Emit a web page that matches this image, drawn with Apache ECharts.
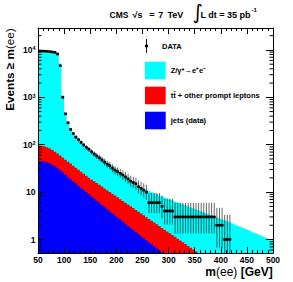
<!DOCTYPE html>
<html><head><meta charset="utf-8">
<script src="https://cdn.jsdelivr.net/npm/echarts@6/dist/echarts.min.js"></script>
<style>html,body{margin:0;padding:0;background:#fff}#c{width:293px;height:282px}</style>
</head><body><div id="c"></div>
<script>
// ---- data (bin low edges, 5 GeV bins) ----
const binLow = [50,55,60,65,70,75,80,85,90,95,100,105,110,115,120,125,130,135,140,145,150,155,160,165,170,175,180,185,190,195,200,205,210,215,220,225,230,235,240,245,250,255,260,265,270,275,280,285,290,295,300,305,310,315,320,325,330,335,340,345,350,355,360,365,370,375,380,385,390,395,400,405,410,415,420,425,430,435,440,445,450,455,460,465,470,475,480,485,490,495];
const BIN_W = 5;
// stacked sums
const stackTotal = [9900,9850,9800,9700,9550,9350,9050,8500,5200,1100,
  480,305,222,178,150,130,115,102,91,82,
  74,67,61,55.5,50.5,46,42,38.5,35,32,
  28.5,26,23.8,21.5,19.3,17,15,14,13.2,12.5,
  11.8,11.2,10.6,10.0,9.5,9.0,8.5,8.1,7.72,7.35,
  7.0,6.67,6.36,6.06,5.77,5.50,5.24,4.99,4.76,4.53,
  4.32,4.11,3.92,3.73,3.56,3.39,3.23,3.08,2.93,2.79,
  2.66,2.54,2.42,2.30,2.19,2.07,1.96,1.86,1.76,1.67,
  1.58,1.49,1.41,1.34,1.27,1.20,1.14,1.08,1.02,0.97];
const stackPromptPlusJets = [95,94,92,88,83,77,71,65,59,53.5,
  48.5,44,40,36.2,32.8,29.7,26.9,24.4,22.1,20.1,
  18.3,17.0,15.6,14.3,13.1,12.0,11.0,10.1,9.24,8.47,
  7.76,7.11,6.52,5.97,5.47,5.02,4.60,4.21,3.86,3.54,
  3.24,2.97,2.72,2.50,2.29,2.10,1.92,1.76,1.61,1.48,
  1.35,1.24,1.14,1.04,0.955,0.875,0.802,0.735,0.674,0.617,
  0.566,0.519,0.475,0.435];
const stackJets = [45,44.5,43.5,42,40,37.5,35,32,29,26,
  23.3,20.9,18.8,16.9,15.2,13.7,12.3,11.1,10.0,9.0,
  8.1,7.3,6.6,5.95,5.37,4.85,4.38,3.96,3.58,3.23,
  2.92,2.64,2.38,2.15,1.94,1.76,1.59,1.44,1.30,1.18,
  1.07,0.97,0.88,0.80,0.72,0.655,0.595,0.54,0.49,0.445,
  0.40];
const dataCounts = [9500,9450,9400,9300,9200,9050,8850,8200,4640,1000,
  448,290,210,172,145,128,112,99,88,80,
  71,64,58,53,48,43,39,36,32,29,
  27,25,23,21,19,17,16,15,13,12,
  11,10,6,6,6,6,6,5,4,4,
  4,4,3,3,3,3,3,3,3,3,
  3,3,3,3,3,3,3,3,2,2,
  2,1,1,1];
const seriesNames = ['DATA','Z/γ*→e⁺e⁻','tt\u0304 + other prompt leptons','jets (data)'];
const xTicks = [50,100,150,200,250,300,350,400,450,500];
const X_MIN = 50, X_MAX = 500, Y_MIN = 0.52, Y_MAX = 29000;

const FONT = '"Liberation Sans", Arial, Helvetica, sans-serif';

function stepData(arr){
  const d = arr.map((v,i)=>[binLow[i], v]);
  d.push([binLow[arr.length-1] + BIN_W, arr[arr.length-1]]);
  return d;
}
// Poisson (approx. Garwood) intervals derived from the counts
const dataPts = dataCounts.map((n,i)=>[binLow[i] + BIN_W/2, n,
  n - Math.sqrt(Math.max(n - 0.25, 0)), n + Math.sqrt(n + 0.75) + 1]);

const yMinor = [];
for (let k = -1; k <= 4; k++) for (let m = 2; m <= 9; m++) {
  const v = m * Math.pow(10, k); if (v > Y_MIN && v < Y_MAX) yMinor.push([X_MIN, v]);
}

const chart = echarts.init(document.getElementById('c'), null, {renderer:'svg'});
const axisCommon = {
  axisLine:{onZero:false, lineStyle:{color:'#000', width:1}},
  splitLine:{show:false}, z:10
};
function areaSeries(name, arr, color, z){
  return {type:'line', name, data:stepData(arr), step:'end', symbol:'none', z,
    color, itemStyle:{color}, lineStyle:{width:0, color},
    areaStyle:{color, opacity:1, origin:'start'}, silent:true, animation:false};
}
const legText = {fontSize:7.5, fontWeight:'bold', color:'#000', fontFamily:FONT};
const tFont = 'bold 9px ' + FONT;
chart.setOption({
  animation:false,
  textStyle:{fontFamily:FONT},
  grid:{left:38, right:20, top:28, bottom:29},
  xAxis:[
    Object.assign({type:'value', min:X_MIN, max:X_MAX, interval:50, position:'bottom',
      axisTick:{inside:true, length:6, lineStyle:{color:'#000'}},
      minorTick:{show:true, splitNumber:5, length:3, lineStyle:{color:'#000'}},
      axisLabel:{margin:2, fontSize:8.5, fontWeight:'bold', color:'#000', fontFamily:FONT,
        formatter:v=>xTicks.includes(v)?String(v):''}}, axisCommon),
    Object.assign({type:'value', min:X_MIN, max:X_MAX, interval:50, position:'top',
      axisTick:{inside:true, length:6, lineStyle:{color:'#000'}},
      minorTick:{show:true, splitNumber:5, length:3, lineStyle:{color:'#000'}},
      axisLabel:{show:false}}, axisCommon)
  ],
  yAxis:[
    Object.assign({type:'log', logBase:10, min:Y_MIN, max:Y_MAX, position:'left',
      axisTick:{inside:true, length:7, lineStyle:{color:'#000'}},
      axisLabel:{margin:2.5, fontSize:8.5, fontWeight:'bold', color:'#000', fontFamily:FONT,
        showMinLabel:false, showMaxLabel:false,
        formatter:v=>{const k=Math.round(Math.log10(v)); if(k===0) return '1'; if(k===1) return '10'; return '10{s|'+k+'}';},
        rich:{s:{fontSize:5.5, fontWeight:'bold', color:'#000', fontFamily:FONT, verticalAlign:'top'}}}}, axisCommon),
    Object.assign({type:'log', logBase:10, min:Y_MIN, max:Y_MAX, position:'right',
      axisTick:{inside:true, length:7, lineStyle:{color:'#000'}},
      axisLabel:{show:false}}, axisCommon)
  ],
  legend:[
    {data:[{name:seriesNames[0], icon:'path://M1.05,0h0.9v14h-0.9z M0,5.7h3v2.6h-3z'}],
      left:145, top:39, padding:0, itemWidth:21, itemHeight:14, orient:'vertical',
      selectedMode:false, textStyle:legText, itemStyle:{borderWidth:0}},
    {data:[{name:seriesNames[1], icon:'rect'},{name:seriesNames[2], icon:'rect'},{name:seriesNames[3], icon:'rect'}],
      left:145, top:61.7, padding:0, itemWidth:20.7, itemHeight:17.6, itemGap:7.4, orient:'vertical',
      selectedMode:false, textStyle:legText, itemStyle:{borderWidth:0}}
  ],
  series:[
    areaSeries(seriesNames[1], stackTotal, '#00FFFF', 2),
    areaSeries(seriesNames[2], stackPromptPlusJets, '#FF0000', 3),
    areaSeries(seriesNames[3], stackJets, '#0000FF', 4),
    {type:'custom', name:seriesNames[0], data:dataPts, z:6, clip:true, silent:true,
      color:'#000', itemStyle:{color:'#000'},
      renderItem:(params, api)=>{
        const x=api.value(0), n=api.value(1), lo=api.value(2), hi=api.value(3);
        const p=api.coord([x,n]), pl=api.coord([x-BIN_W/2,n]), pr=api.coord([x+BIN_W/2,n]);
        const ph=api.coord([x,hi]), plo=api.coord([x,Math.max(lo,0.05)]);
        return {type:'group', children:[
          {type:'line', shape:{x1:p[0],y1:plo[1],x2:p[0],y2:ph[1]}, style:{stroke:'rgba(0,0,0,0.6)', lineWidth:1}},
          {type:'line', shape:{x1:pl[0],y1:p[1],x2:pr[0],y2:p[1]}, style:{stroke:'#000', lineWidth:1.2}},
          {type:'rect', shape:{x:p[0]-1.3,y:p[1]-1.3,width:2.6,height:2.6}, style:{fill:'#000'}}
        ]};
      }},
    {type:'custom', name:'minorTicks', data:yMinor, z:11, clip:false, silent:true,
      renderItem:(params, api)=>{
        const v=api.value(1); const a=api.coord([X_MIN,v]), b=api.coord([X_MAX,v]);
        return {type:'group', children:[
          {type:'line', shape:{x1:a[0],y1:a[1],x2:a[0]+3.5,y2:a[1]}, style:{stroke:'#000', lineWidth:1}},
          {type:'line', shape:{x1:b[0]-3.5,y1:b[1],x2:b[0],y2:b[1]}, style:{stroke:'#000', lineWidth:1}}
        ]};
      }}
  ],
  graphic:[
    {type:'text', x:109.5, y:14.5, style:{text:'CMS', font:'bold 8.5px '+FONT, fill:'#000', verticalAlign:'middle'}},
    {type:'text', x:132.5, y:14.5, style:{text:'√s', font:tFont, fill:'#000', verticalAlign:'middle'}},
    {type:'text', x:149.3, y:14.5, style:{text:'=', font:tFont, fill:'#000', verticalAlign:'middle'}},
    {type:'text', x:158.3, y:14.5, style:{text:'7', font:tFont, fill:'#000', verticalAlign:'middle'}},
    {type:'text', x:167.5, y:14.5, style:{text:'TeV', font:tFont, fill:'#000', verticalAlign:'middle'}},
    {type:'text', x:192.5, y:12, style:{text:'∫', font:'20px "DejaVu Sans"', fill:'#000', verticalAlign:'middle'}},
    {type:'text', x:200.5, y:14.5, style:{text:'L dt = 35 pb', font:tFont, fill:'#000', verticalAlign:'middle'}},
    {type:'text', x:251.5, y:10.3, style:{text:'-1', font:'bold 6px '+FONT, fill:'#000', verticalAlign:'middle'}},
    {type:'text', x:272.7, y:271.5, style:{text:'{b|m}{n|(ee)}{b| [GeV]}', align:'right', verticalAlign:'middle',
      rich:{b:{fontSize:12, fontWeight:'bold', fontFamily:FONT, fill:'#000'}, n:{fontSize:12, fontWeight:'normal', fontFamily:FONT, fill:'#000'}}}},
    {type:'text', x:9.2, y:28.3, rotation:Math.PI/2, style:{text:'{b|Events ≥ m}{n|(ee)}', align:'right', verticalAlign:'middle',
      rich:{b:{fontSize:11.7, fontWeight:'bold', fontFamily:FONT, fill:'#000'}, n:{fontSize:11.7, fontWeight:'normal', fontFamily:FONT, fill:'#000'}}}}
  ]
});
</script></body></html>
